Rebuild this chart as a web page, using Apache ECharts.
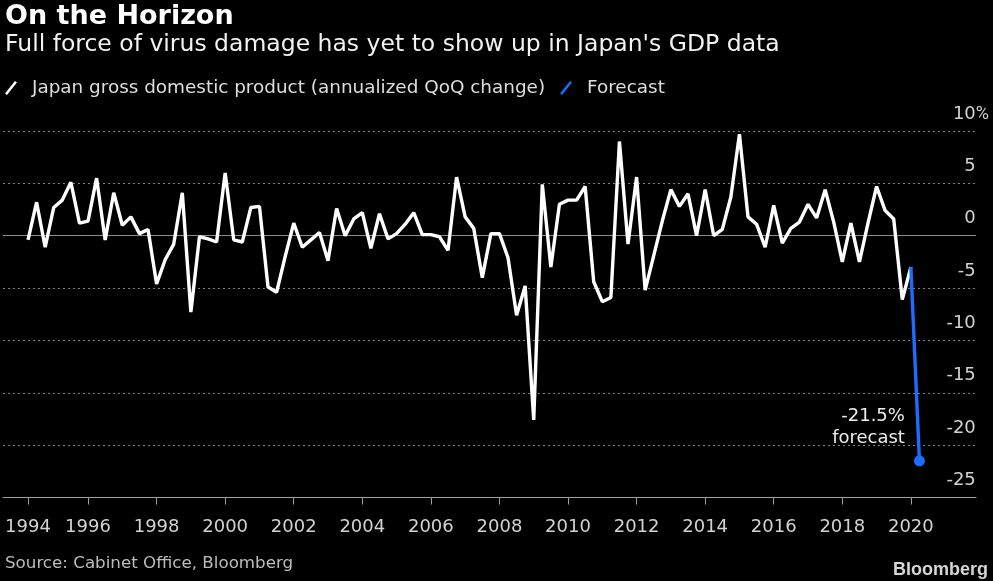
<!DOCTYPE html>
<html>
<head>
<meta charset="utf-8">
<script src="https://cdn.jsdelivr.net/npm/echarts@6/dist/echarts.min.js"></script>
<style>
  html,body{margin:0;padding:0;background:#000;}
  #chart{width:993px;height:581px;}
</style>
</head>
<body>
<div id="chart"></div>
<script>
// quarterly GDP, annualized QoQ %, 1994 Q2 .. 2020 Q1
const gdp = [
  -0.4, 3.2, -1.1, 2.7, 3.4, 5.1, 1.2, 1.4, 5.5, -0.4,
  4.1, 1.0, 1.8, 0.2, 0.6, -4.6, -2.3, -0.8, 4.1, -7.3,
  -0.1, -0.3, -0.6, 6.0, -0.4, -0.6, 2.7, 2.8, -4.9, -5.4,
  -2.0, 1.2, -1.1, -0.4, 0.3, -2.4, 2.6, 0.0, 1.6, 2.2,
  -1.2, 2.1, -0.3, 0.2, 1.1, 2.2, 0.1, 0.1, -0.1, -1.4,
  5.6, 1.8, 0.7, -4.0, 0.2, 0.2, -2.1, -7.6, -4.8, -17.6,
  4.9, -3.0, 3.0, 3.4, 3.4, 4.7, -4.4, -6.3, -5.9, 9.0,
  -0.8, 5.6, -5.2, -1.9, 1.4, 4.4, 2.8, 4.0, 0.0, 4.4,
  0.0, 0.6, 3.7, 9.7, 1.8, 1.1, -1.1, 2.9, -0.7, 0.7,
  1.3, 3.0, 1.7, 4.4, 1.3, -2.5, 1.2, -2.5, 1.2, 4.7,
  2.4, 1.6, -6.1, -3.0
];
const forecast = -21.5;        // 2020 Q2
const startYear = 1994, startQuarter = 2;
const tickYears = [1994, 1996, 1998, 2000, 2002, 2004, 2006, 2008, 2010, 2012, 2014, 2016, 2018, 2020];

const gdpName = 'Japan gross domestic product (annualized QoQ change)';
const fcName = 'Forecast';
const FONT = 'DejaVu Sans';
const LABEL = '#d2d2d2';

// quarter -> fractional year (quarter start)
const qx = i => startYear + (startQuarter - 1 + i) / 4;

const gdpData = gdp.map((v, i) => [qx(i), v]);
const last = gdpData[gdpData.length - 1];
const fcData = [
  {value: last, symbol: 'none'},
  {value: [qx(gdp.length), forecast], symbol: 'circle', symbolSize: 11,
   label: {show: true, formatter: forecast + '%\nforecast', position: [-9, -28],
           align: 'right', verticalAlign: 'middle', lineHeight: 22,
           color: '#ececec', fontSize: 18, fontFamily: FONT}}
];

// the 1994 tick sits on the first data point
const tickPos = tickYears.map((y, i) => i === 0 ? qx(0) : y);

const slash = 'path://M0,12.6 L10,0 L12,1.5 L2,14.1 Z';

const option = {
  backgroundColor: '#000',
  animation: false,
  title: [
    {text: 'On the Horizon', left: 5, top: 3, padding: 0,
     textStyle: {color: '#fff', fontSize: 27, fontWeight: 'bold', fontFamily: FONT}},
    {text: "Full force of virus damage has yet to show up in Japan's GDP data", left: 5, top: 33, padding: 0,
     textStyle: {color: '#f2f2f2', fontSize: 23.5, fontWeight: 'normal', fontFamily: FONT}},
    {text: 'Source: Cabinet Office, Bloomberg', left: 5, top: 555, padding: 0,
     textStyle: {color: '#bdbdbd', fontSize: 16.7, fontWeight: 'normal', fontFamily: FONT}},
    {text: 'Bloomberg', right: 5, top: 561, padding: 0,
     textStyle: {color: '#d6d6d6', fontSize: 18, fontWeight: 'bold', fontFamily: 'Liberation Sans'}}
  ],
  legend: {
    left: 5, top: 79, padding: 0, itemWidth: 12, itemHeight: 14, itemGap: 15,
    textStyle: {color: '#dedede', fontSize: 18.4, fontFamily: FONT, padding: [0, 0, 0, 10]},
    data: [
      {name: gdpName, icon: slash, itemStyle: {color: '#fff'}},
      {name: fcName, icon: slash, itemStyle: {color: '#1a6dff'}}
    ]
  },
  grid: {left: 3, right: 17, top: 131, bottom: 83.5},
  xAxis: {
    type: 'value', min: 1993.52, max: 2021.9,
    axisLine: {show: true, onZero: false, lineStyle: {color: '#a0a0a0', width: 1}},
    axisTick: {show: true, customValues: tickPos, length: 7, lineStyle: {color: '#a0a0a0'}},
    axisLabel: {customValues: tickPos, formatter: v => String(Math.floor(v)),
                color: LABEL, fontSize: 18, fontFamily: FONT, margin: 21},
    splitLine: {show: false}
  },
  yAxis: {
    type: 'value', position: 'right', min: -25, max: 10, interval: 5,
    axisLine: {show: false}, axisTick: {show: false},
    axisLabel: {
      align: 'right', verticalAlign: 'bottom', margin: 13, padding: [0, 0, 8, 0],
      color: LABEL, fontSize: 18, fontFamily: FONT,
      formatter: v => v === 10 ? '10{p|%}' : v + '{h|%}',
      rich: {
        p: {color: LABEL, fontSize: 18, fontFamily: 'Roboto'},
        h: {color: 'rgba(0,0,0,0)', fontSize: 18, fontFamily: 'Roboto'}
      }
    },
    splitLine: {show: true, lineStyle: {color: '#808080', type: [2, 3], width: 1}}
  },
  series: [
    {
      name: gdpName, type: 'line', data: gdpData, showSymbol: false,
      lineStyle: {color: '#fff', width: 3.4}, itemStyle: {color: '#fff'},
      z: 3,
      markLine: {
        silent: true, symbol: 'none', label: {show: false},
        lineStyle: {color: '#8c8c8c', type: 'solid', width: 1},
        data: [{yAxis: 0}], z: 1
      }
    },
    {
      name: fcName, type: 'line', data: fcData, showAllSymbol: true,
      lineStyle: {color: '#1a6dff', width: 3.4}, itemStyle: {color: '#1a6dff'},
      z: 4
    }
  ]
};

const chart = echarts.init(document.getElementById('chart'));
chart.setOption(option);
</script>
</body>
</html>
